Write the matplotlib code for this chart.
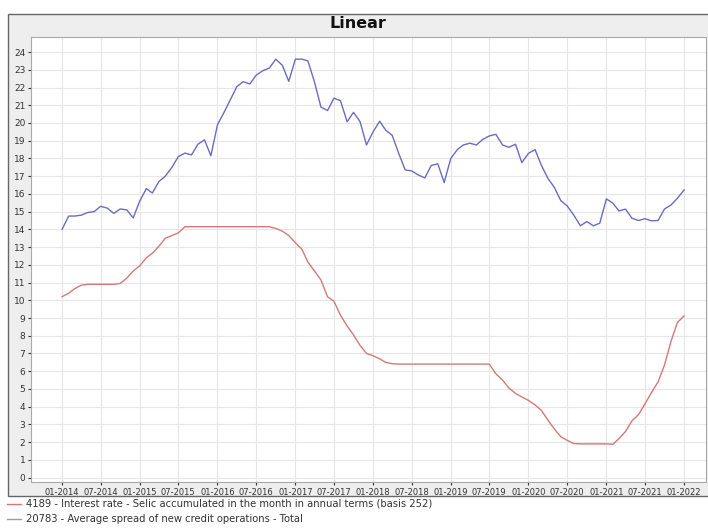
import numpy as np
import pandas as pd
import matplotlib
matplotlib.use('Agg')
import matplotlib.pyplot as plt
import matplotlib.dates as mdates
from matplotlib.patches import Rectangle

# monthly observations, 01-2014 .. 01-2022
months = pd.date_range('2014-01-01', '2022-01-01', freq='MS')

selic = [10.2, 10.4, 10.65, 10.85, 10.9, 10.9, 10.9, 10.9, 10.9, 10.95,
         11.25, 11.65, 11.95, 12.4, 12.65, 13.05, 13.5, 13.65, 13.8, 14.15,
         14.15, 14.15, 14.15, 14.15, 14.15, 14.15, 14.15, 14.15, 14.15, 14.15,
         14.15, 14.15, 14.15, 14.05, 13.9, 13.65, 13.25, 12.87, 12.15, 11.65,
         11.15, 10.2, 9.95, 9.15, 8.55, 8.05, 7.45, 7.0, 6.87, 6.7,
         6.5, 6.42, 6.4, 6.4, 6.4, 6.4, 6.4, 6.4, 6.4, 6.4,
         6.4, 6.4, 6.4, 6.4, 6.4, 6.4, 6.4, 5.85, 5.5, 5.05,
         4.75, 4.55, 4.35, 4.1, 3.8, 3.25, 2.75, 2.3, 2.1, 1.92,
         1.9, 1.9, 1.9, 1.9, 1.9, 1.88, 2.2, 2.6, 3.2, 3.55,
         4.15, 4.8, 5.4, 6.35, 7.7, 8.75, 9.12]

spread = [14.0, 14.75, 14.75, 14.8, 14.95, 15.0, 15.3, 15.2, 14.9, 15.15,
          15.1, 14.65, 15.6, 16.3, 16.05, 16.7, 17.0, 17.5, 18.1, 18.3,
          18.2, 18.8, 19.05, 18.15, 19.9, 20.6, 21.3, 22.05, 22.33, 22.2,
          22.7, 22.95, 23.1, 23.6, 23.25, 22.35, 23.6, 23.6, 23.5, 22.3,
          20.9, 20.7, 21.4, 21.25, 20.07, 20.6, 20.07, 18.76, 19.5, 20.1,
          19.6, 19.3, 18.3, 17.35, 17.3, 17.07, 16.9, 17.6, 17.7, 16.64,
          18.0, 18.5, 18.76, 18.86, 18.76, 19.08, 19.27, 19.36, 18.76, 18.63,
          18.8, 17.76, 18.29, 18.5, 17.63, 16.88, 16.38, 15.62, 15.32, 14.8,
          14.2, 14.44, 14.2, 14.35, 15.72, 15.47, 15.04, 15.14, 14.63, 14.5,
          14.6, 14.48, 14.5, 15.15, 15.38, 15.76, 16.22]

labels = ['4189 - Interest rate - Selic accumulated in the month in annual terms (basis 252)',
          '20783 - Average spread of new credit operations - Total']

W, H = 708, 528
fig = plt.figure(figsize=(W / 100, H / 100), dpi=100)
fig.patch.set_facecolor('white')

# grey chart panel with border, kept behind the axes
panel = Rectangle((8 / W, 1 - 496 / H), 1.0, (496 - 14) / H,
                  transform=fig.transFigure, facecolor='#eeeeee',
                  edgecolor='#666666', lw=1.0, zorder=-5)
fig.patches.append(panel)

ax = fig.add_axes([31 / W, 1 - 482 / H, (706 - 31) / W, (482 - 37) / H])
ax.set_zorder(2)
ax.set_facecolor('white')

ax.plot(months, selic, color='#d47878', lw=1.0, label=labels[0])
ax.plot(months, spread, color='#6b6bc4', lw=1.0, label=labels[1])

ax.set_ylim(-0.25, 24.85)
ax.set_yticks(range(0, 25))
ax.set_xlim(pd.Timestamp('2013-08-08'), pd.Timestamp('2022-04-14'))
ax.xaxis.set_major_locator(mdates.MonthLocator(bymonth=[1, 7]))
ax.xaxis.set_major_formatter(mdates.DateFormatter('%m-%Y'))

ax.tick_params(axis='y', labelsize=6.5, length=2.5, pad=1.5, colors='#333333')
ax.tick_params(axis='x', labelsize=6, length=2.5, pad=2, colors='#333333')
ax.grid(True, color='#e6e6e6', lw=0.8)
ax.set_axisbelow(True)
for s in ax.spines.values():
    s.set_color('#aaaaaa')
    s.set_linewidth(0.8)

fig.text(358 / W, 1 - 24 / H, 'Linear', ha='center', va='center',
         fontsize=11.5, fontweight='bold', color='#111111')

h, l = ax.get_legend_handles_labels()
leg = fig.legend(h, l, loc='upper left', bbox_to_anchor=(6 / W, 1 - 498 / H),
                 frameon=False, fontsize=7.2, handlelength=1.4,
                 handletextpad=0.5, labelspacing=0.55, borderaxespad=0,
                 borderpad=0.1)
leg.legend_handles[1].set_color('#9a9ab0')
for t in leg.get_texts():
    t.set_color('#333333')

fig.savefig('out.png', dpi=100)
